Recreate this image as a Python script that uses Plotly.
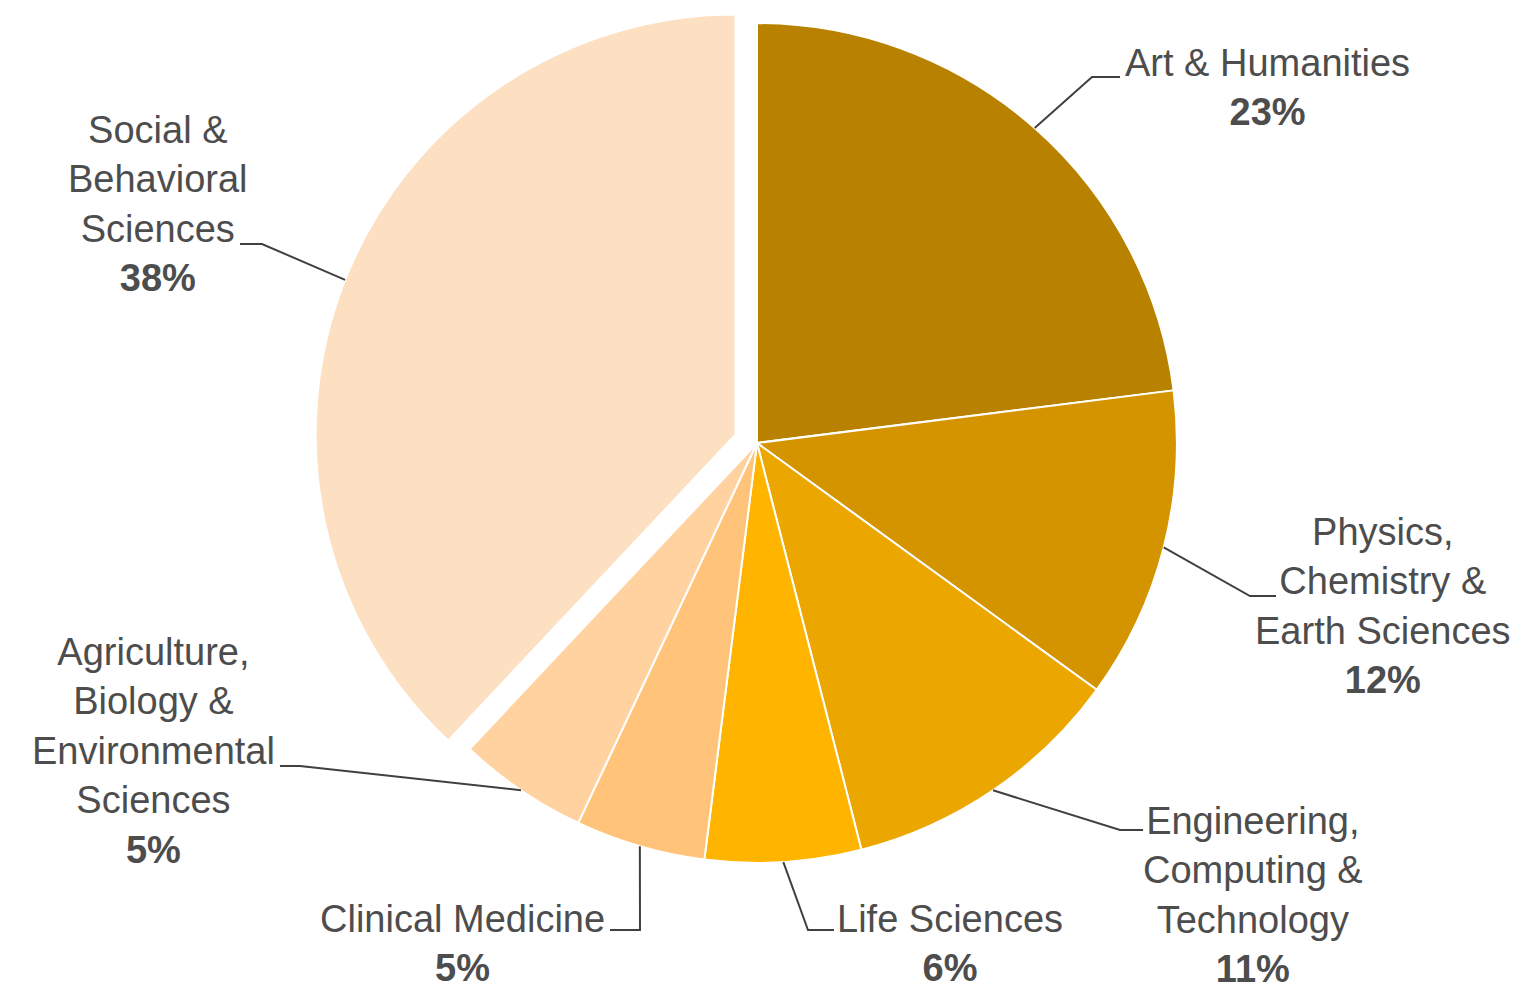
import math
import plotly.graph_objects as go

# ---- data ----
categories = ["Art & Humanities", "Physics, Chemistry & Earth Sciences",
              "Engineering, Computing & Technology", "Life Sciences",
              "Clinical Medicine", "Agriculture, Biology & Environmental Sciences",
              "Social & Behavioral Sciences"]
values = [23, 12, 11, 6, 5, 5, 38]
label_text = ["Art & Humanities", "Physics,<br>Chemistry &<br>Earth Sciences",
              "Engineering,<br>Computing &<br>Technology", "Life Sciences",
              "Clinical Medicine", "Agriculture,<br>Biology &<br>Environmental<br>Sciences",
              "Social &<br>Behavioral<br>Sciences"]
colors = ["#B88200", "#D49400", "#EBA600", "#FFB400", "#FFC47A", "#FFD2A0", "#FDDFC2"]
pulls = [0, 0, 0, 0, 0, 0, 0.055]

# ---- layout geometry (pixels) ----
W, H = 1539, 990
cx, cy = 757, 443
box = 886
r = box / (2 * (1 + max(pulls)))

def px2paper(x, y):
    return x / W, 1 - y / H

# label block centres and leader elbows/ends (pixels)
label_pos = [(1267, 87), (1383, 606), (1253, 895), (950, 943), (462, 943), (153, 751), (158, 204)]
elbows = [((1092, 77), (1120, 77)), ((1250, 596), (1276, 596)), ((1120, 830), (1143, 830)),
          ((808, 930), (834, 930)), ((640, 930), (610, 930)), ((300, 766), (280, 766)),
          ((262, 244), (240, 244))]

fig = go.Figure(go.Pie(
    labels=categories, values=values, sort=False, direction="clockwise", rotation=0,
    marker=dict(colors=colors, line=dict(color="white", width=2)),
    pull=pulls, textinfo="none", hoverinfo="label+percent", showlegend=False,
    domain=dict(x=[(cx - box / 2) / W, (cx + box / 2) / W], y=[1 - (cy + box / 2) / H, 1 - (cy - box / 2) / H]),
))

total = sum(values)
cum = 0
shapes = []
annotations = []
for i, v in enumerate(values):
    mid = (cum + v / 2) / total
    cum += v
    th = 2 * math.pi * mid
    R = r * (1 + pulls[i])
    ax = cx + R * math.sin(th)
    ay = cy - R * math.cos(th)
    (ex, ey), (tx, ty) = elbows[i]
    p0 = px2paper(ax, ay); p1 = px2paper(ex, ey); p2 = px2paper(tx, ty)
    shapes.append(dict(type="path", xref="paper", yref="paper",
                       path=f"M {p0[0]},{p0[1]} L {p1[0]},{p1[1]} L {p2[0]},{p2[1]}",
                       line=dict(color="#404040", width=2)))
    lx, ly = px2paper(*label_pos[i])
    pct = round(100 * v / total)
    annotations.append(dict(x=lx, y=ly, xref="paper", yref="paper", xanchor="center", yanchor="middle",
                            align="center", showarrow=False,
                            text=f"{label_text[i]}<br><b>{pct}%</b>",
                            font=dict(family="Liberation Sans, Arial, sans-serif", size=38, color="#4D4D4D")))

fig.update_layout(width=W, height=H, margin=dict(l=0, r=0, t=0, b=0),
                  paper_bgcolor="white", plot_bgcolor="white",
                  shapes=shapes, annotations=annotations)

fig.write_html("out.html", config={"displayModeBar": False},
               post_script="document.body.style.margin='0';")
